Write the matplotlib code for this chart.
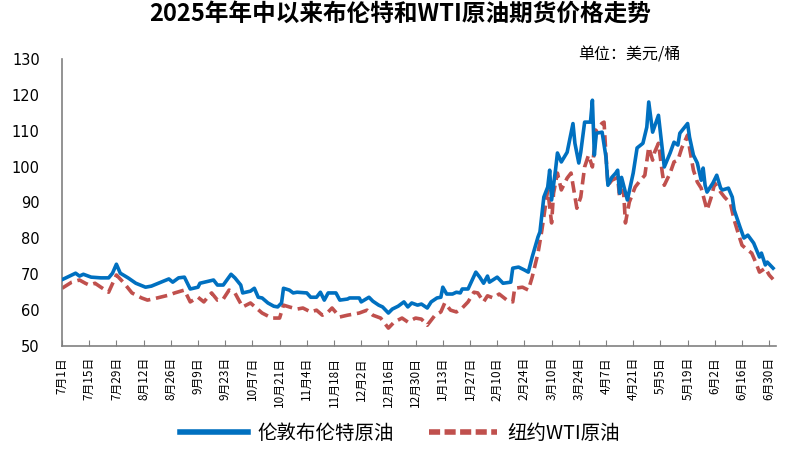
import matplotlib
matplotlib.use("Agg")
import matplotlib.pyplot as plt
import pandas as pd

plt.rcParams['font.family'] = ['Noto Sans CJK SC', 'DejaVu Sans']

title = "2025年年中以来布伦特和WTI原油期货价格走势"
unit_label = "单位：美元/桶"
brent_name = "伦敦布伦特原油"
wti_name = "纽约WTI原油"

brent_dates = [
    "2025-07-01", "2025-07-03", "2025-07-08", "2025-07-10", "2025-07-12", "2025-07-16",
    "2025-07-21", "2025-07-25", "2025-07-27", "2025-07-29", "2025-07-31", "2025-08-04",
    "2025-08-08", "2025-08-13", "2025-08-16", "2025-08-21", "2025-08-25", "2025-08-27",
    "2025-08-30", "2025-09-02", "2025-09-05", "2025-09-09", "2025-09-10", "2025-09-17",
    "2025-09-19", "2025-09-22", "2025-09-26", "2025-09-28", "2025-10-01", "2025-10-02",
    "2025-10-06", "2025-10-08", "2025-10-10", "2025-10-12", "2025-10-15", "2025-10-18",
    "2025-10-20", "2025-10-22", "2025-10-23", "2025-10-26", "2025-10-28", "2025-10-30",
    "2025-11-04", "2025-11-06", "2025-11-09", "2025-11-11", "2025-11-13", "2025-11-15",
    "2025-11-19", "2025-11-21", "2025-11-25", "2025-11-26", "2025-12-01", "2025-12-02",
    "2025-12-06", "2025-12-08", "2025-12-11", "2025-12-13", "2025-12-16", "2025-12-18",
    "2025-12-21", "2025-12-24", "2025-12-26", "2025-12-28", "2025-12-31", "2026-01-02",
    "2026-01-05", "2026-01-07", "2026-01-10", "2026-01-12", "2026-01-13", "2026-01-15",
    "2026-01-18", "2026-01-20", "2026-01-22", "2026-01-23", "2026-01-26", "2026-01-30",
    "2026-02-01", "2026-02-03", "2026-02-05", "2026-02-06", "2026-02-10", "2026-02-13",
    "2026-02-17", "2026-02-18", "2026-02-21", "2026-02-24", "2026-02-26", "2026-02-28",
    "2026-03-03", "2026-03-04", "2026-03-06", "2026-03-08", "2026-03-09", "2026-03-10",
    "2026-03-12", "2026-03-13", "2026-03-15", "2026-03-18", "2026-03-21", "2026-03-22",
    "2026-03-24", "2026-03-25", "2026-03-27", "2026-03-30", "2026-03-31", "2026-04-01",
    "2026-04-02", "2026-04-05", "2026-04-07", "2026-04-08", "2026-04-10", "2026-04-12",
    "2026-04-13", "2026-04-14", "2026-04-15", "2026-04-18", "2026-04-21", "2026-04-23",
    "2026-04-26", "2026-04-28", "2026-04-29", "2026-05-01", "2026-05-04", "2026-05-07",
    "2026-05-10", "2026-05-12", "2026-05-14", "2026-05-15", "2026-05-19", "2026-05-20",
    "2026-05-22", "2026-05-24", "2026-05-26", "2026-05-27", "2026-05-28", "2026-05-29",
    "2026-06-01", "2026-06-03", "2026-06-05", "2026-06-06", "2026-06-09", "2026-06-11",
    "2026-06-12", "2026-06-15", "2026-06-17", "2026-06-19", "2026-06-22", "2026-06-25",
    "2026-06-26", "2026-06-28", "2026-06-29", "2026-07-02",
]
brent_values = [
    68.5, 69.0, 70.3, 69.5, 70.0, 69.2,
    69.0, 69.0, 70.3, 72.8, 70.3, 69.0,
    67.5, 66.4, 66.7, 67.8, 68.7, 67.8,
    69.0, 69.2, 65.9, 66.4, 67.5, 68.4,
    67.0, 67.0, 70.0, 69.0, 67.0, 64.8,
    65.3, 66.1, 63.6, 63.4, 62.0, 61.1,
    60.9, 62.0, 66.1, 65.6, 64.8, 65.0,
    64.8, 63.6, 63.6, 65.0, 62.8, 64.8,
    64.8, 62.8, 63.1, 63.4, 63.4, 62.3,
    63.6, 62.5, 61.4, 60.9, 59.2, 60.3,
    61.1, 62.3, 60.9, 62.0, 61.4, 61.7,
    60.6, 62.3, 63.4, 63.6, 66.4, 64.5,
    64.5, 65.0, 64.8, 65.9, 65.9, 70.6,
    69.2, 67.5, 69.5, 67.8, 69.2, 67.5,
    67.8, 71.7, 72.0, 71.2, 70.6, 74.8,
    80.4, 81.8, 91.5, 94.3, 99.0, 90.7,
    99.0, 103.8, 101.3, 104.0, 112.0, 106.5,
    101.0, 104.0, 112.4, 112.4, 118.5, 103.2,
    109.3, 109.6, 102.6, 94.8, 97.0, 98.2,
    99.0, 92.6, 97.0, 90.7, 98.2, 105.2,
    106.5, 111.0, 118.0, 109.6, 114.3, 99.9,
    103.8, 106.8, 106.0, 109.3, 112.0, 108.2,
    103.2, 101.0, 96.2, 99.6, 94.8, 92.9,
    95.4, 97.6, 94.0, 93.5, 94.0, 91.5,
    87.9, 83.1, 80.1, 80.9, 78.7, 74.8,
    75.9, 72.6, 73.4, 71.7,
]

wti_dates = [
    "2025-07-01", "2025-07-06", "2025-07-10", "2025-07-13", "2025-07-15", "2025-07-18",
    "2025-07-21", "2025-07-25", "2025-07-29", "2025-08-02", "2025-08-06", "2025-08-11",
    "2025-08-14", "2025-08-19", "2025-08-25", "2025-08-28", "2025-09-02", "2025-09-05",
    "2025-09-09", "2025-09-12", "2025-09-14", "2025-09-16", "2025-09-19", "2025-09-22",
    "2025-09-25", "2025-09-28", "2025-09-30", "2025-10-02", "2025-10-06", "2025-10-09",
    "2025-10-12", "2025-10-17", "2025-10-21", "2025-10-23", "2025-10-26", "2025-10-30",
    "2025-11-02", "2025-11-06", "2025-11-09", "2025-11-12", "2025-11-15", "2025-11-17",
    "2025-11-21", "2025-11-25", "2025-12-01", "2025-12-05", "2025-12-08", "2025-12-12",
    "2025-12-16", "2025-12-19", "2025-12-23", "2025-12-26", "2025-12-30", "2026-01-02",
    "2026-01-05", "2026-01-09", "2026-01-12", "2026-01-14", "2026-01-17", "2026-01-20",
    "2026-01-23", "2026-01-26", "2026-01-29", "2026-01-31", "2026-02-03", "2026-02-05",
    "2026-02-08", "2026-02-11", "2026-02-15", "2026-02-18", "2026-02-19", "2026-02-23",
    "2026-02-26", "2026-02-28", "2026-03-03", "2026-03-05", "2026-03-07", "2026-03-08",
    "2026-03-10", "2026-03-11", "2026-03-13", "2026-03-15", "2026-03-18", "2026-03-20",
    "2026-03-23", "2026-03-25", "2026-03-27", "2026-03-29", "2026-03-31", "2026-04-02",
    "2026-04-05", "2026-04-06", "2026-04-07", "2026-04-08", "2026-04-10", "2026-04-13",
    "2026-04-14", "2026-04-16", "2026-04-17", "2026-04-19", "2026-04-22", "2026-04-24",
    "2026-04-27", "2026-04-29", "2026-05-01", "2026-05-02", "2026-05-04", "2026-05-06",
    "2026-05-07", "2026-05-10", "2026-05-12", "2026-05-14", "2026-05-16", "2026-05-19",
    "2026-05-20", "2026-05-22", "2026-05-24", "2026-05-26", "2026-05-29", "2026-05-31",
    "2026-06-02", "2026-06-05", "2026-06-07", "2026-06-10", "2026-06-12", "2026-06-14",
    "2026-06-16", "2026-06-19", "2026-06-21", "2026-06-23", "2026-06-25", "2026-06-28",
    "2026-06-30", "2026-07-02",
]
wti_values = [
    66.1, 67.8, 68.4, 67.5, 67.0, 67.5,
    66.4, 65.0, 69.8, 67.5, 64.8, 63.4,
    62.8, 63.4, 64.2, 64.8, 65.6, 62.3,
    63.6, 62.3, 63.6, 64.8, 62.8, 63.1,
    65.6, 64.8, 62.8, 60.9, 62.0, 60.6,
    59.2, 57.8, 57.8, 61.4, 60.9, 60.3,
    60.6, 59.5, 60.0, 58.6, 59.5, 60.6,
    58.1, 58.6, 59.2, 60.0, 58.6, 57.8,
    55.0, 56.7, 57.8, 56.7, 57.8, 57.5,
    55.8, 58.6, 59.5, 62.0, 60.0, 59.5,
    60.6, 62.3, 65.0, 64.8, 62.3, 64.0,
    63.4, 64.5, 62.8, 62.3, 66.1, 66.4,
    65.6, 69.2, 75.9, 82.3, 89.8, 93.5,
    84.3, 92.6, 98.2, 93.5, 96.8, 98.2,
    88.4, 91.5, 99.9, 103.2, 99.9, 110.2,
    112.1, 112.4, 103.0, 94.8, 96.2, 97.0,
    91.5, 93.5, 84.3, 90.1, 94.3, 95.7,
    97.6, 105.4, 101.8, 104.0, 106.5, 98.2,
    94.8, 98.2, 101.3, 101.8, 105.2, 108.8,
    105.2, 99.0, 95.7, 94.0, 87.9, 91.2,
    95.4, 92.9, 91.5, 89.8, 85.1, 81.5,
    78.1, 76.7, 75.9, 73.4, 70.6, 71.7,
    69.8, 68.6,
]

tick_dates = pd.date_range("2025-07-01", "2026-06-30", freq="14D")
tick_labels = [f"{d.month}月{d.day}日" for d in tick_dates]

y_ticks = [50, 60, 70, 80, 90, 100, 110, 120, 130]

fig = plt.figure(figsize=(8, 4.5), dpi=100)
ax = fig.add_axes([0.0775, 0.231, 0.8925, 0.638])

bx = pd.to_datetime(brent_dates)
wx = pd.to_datetime(wti_dates)

ax.plot(wx, wti_values, color="#C0504D", lw=2.6, linestyle=(0, (3.2, 1.6)),
        label=wti_name, zorder=2)
ax.plot(bx, brent_values, color="#0070C0", lw=2.6, label=brent_name, zorder=3,
        solid_joinstyle="round")

start = pd.Timestamp("2025-07-01")
ax.set_xlim(start, start + pd.Timedelta(days=367.5))
ax.set_ylim(50, 130)
ax.set_yticks(y_ticks)
ax.set_yticklabels([str(v) for v in y_ticks], fontsize=10.5, family=['DejaVu Sans'])
ax.tick_params(axis='y', length=0, pad=16)

ax.set_xticks(tick_dates)
ax.set_xticklabels(tick_labels, rotation=90, fontsize=8.5)
ax.tick_params(axis='x', direction='in', length=4, color="#808080", pad=8)

for s in ["top", "right"]:
    ax.spines[s].set_visible(False)
for s in ["left", "bottom"]:
    ax.spines[s].set_color("#808080")
    ax.spines[s].set_linewidth(1.2)

fig.text(0.5, 0.997, title, ha="center", va="top", fontsize=17, fontweight="bold")
fig.text(0.787, 0.878, unit_label, ha="center", va="center", fontsize=11.5)

handles = [
    plt.Line2D([], [], color="#0070C0", lw=4),
    plt.Line2D([], [], color="#C0504D", lw=4, linestyle=(0, (2, 0.8))),
]
leg = fig.legend(handles, [brent_name, wti_name], loc="lower center",
                 bbox_to_anchor=(0.5, -0.012), borderpad=0.1,
                 ncol=2, frameon=False, fontsize=14, handlelength=3.5, columnspacing=1.8,
                 handletextpad=0.5)

fig.savefig("out.png", dpi=100)
